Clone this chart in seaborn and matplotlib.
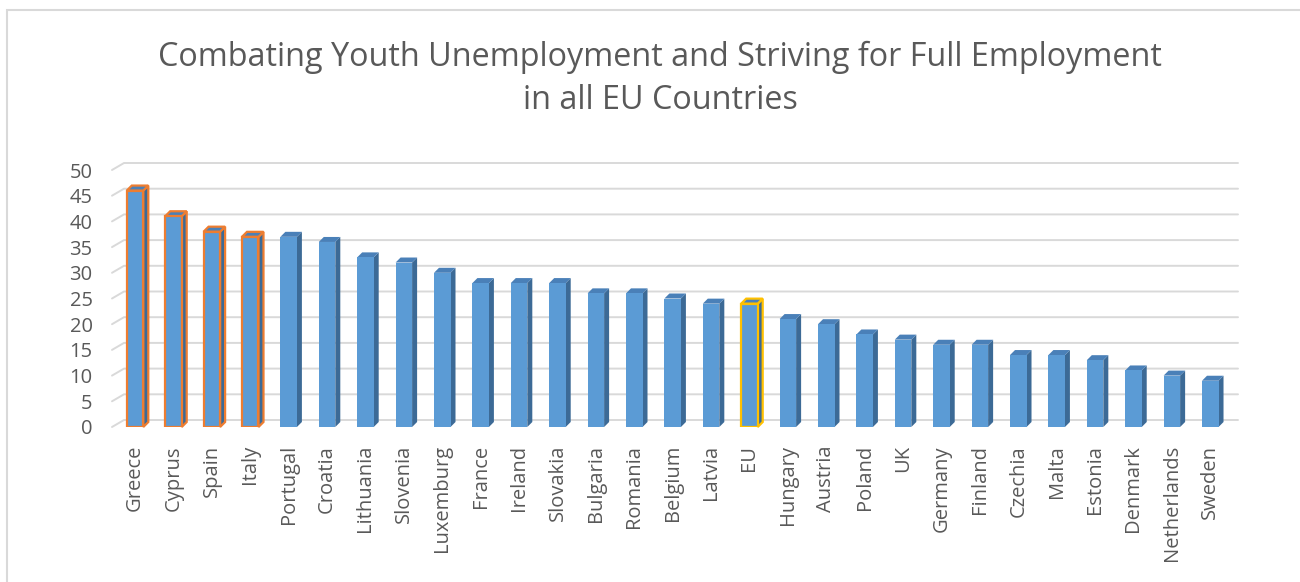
import matplotlib
matplotlib.use("Agg")
import matplotlib.pyplot as plt
from matplotlib.patches import Polygon, Rectangle
from matplotlib.lines import Line2D
from matplotlib.transforms import IdentityTransform
import seaborn as sns
import pandas as pd

countries = ["Greece", "Cyprus", "Spain", "Italy", "Portugal", "Croatia", "Lithuania",
             "Slovenia", "Luxemburg", "France", "Ireland", "Slovakia", "Bulgaria",
             "Romania", "Belgium", "Latvia", "EU", "Hungary", "Austria", "Poland", "UK",
             "Germany", "Finland", "Czechia", "Malta", "Estonia", "Denmark",
             "Netherlands", "Sweden"]
values = [46, 41, 38, 37, 37, 36, 33, 32, 30, 28, 28, 28, 26, 26, 25, 24, 24,
          21, 20, 18, 17, 16, 16, 14, 14, 13, 11, 10, 9]
orange_outlined = ["Greece", "Cyprus", "Spain", "Italy"]
gold_outlined = ["EU"]
yticks = [0, 5, 10, 15, 20, 25, 30, 35, 40, 45, 50]
title = "Combating Youth Unemployment and Striving for Full Employment\nin all EU Countries"

FRONT = "#5B9BD5"
SIDE = "#3C6A96"
TOP = "#4A80B8"
ORANGE = "#ED7D31"
GOLD = "#FFC000"
GRID = "#D9D9D9"
TXT = "#595959"

sns.set_style("white")
plt.rcParams['font.family'] = ['Open Sans', 'DejaVu Sans']

W, H = 1300, 582
fig = plt.figure(figsize=(W / 100, H / 100), dpi=100)
fig.patch.set_facecolor("white")

# chart border
fig.add_artist(Rectangle((7 / W, -0.05), 1.2, 1.05 - 10 / H, transform=fig.transFigure,
                         fill=False, edgecolor=GRID, linewidth=1.5))

ax = fig.add_axes([112 / W, (H - 427) / H, (1231 - 112) / W, 257 / H])
ax.set_facecolor("none")
df = pd.DataFrame({"country": countries, "value": values})
sns.barplot(data=df, x="country", y="value", color=FRONT, saturation=1, width=0.43,
            ax=ax, zorder=3, edgecolor="none")
ax.set_xlim(-0.6, 28.54)
ax.set_ylim(0, 50)
ax.set_yticks(yticks)
ax.set_xlabel("")
ax.set_ylabel("")
for s in ax.spines.values():
    s.set_visible(False)
ax.tick_params(axis="both", length=0, colors=TXT, labelsize=14.5)
ax.tick_params(axis="y", pad=14)
ax.tick_params(axis="x", pad=13)
plt.setp(ax.get_xticklabels(), rotation=90)
ax.grid(False)

# back-wall gridlines
gdx, gdy = 12, 7
x_left, x_right = ax.get_xlim()
for v in yticks:
    fx, fy = ax.transData.transform((x_left, v))
    rx, _ = ax.transData.transform((x_right, v))
    line = Line2D([fx, fx + gdx, rx + 7], [fy, fy + gdy, fy + gdy], color=GRID,
                  linewidth=1.4, transform=IdentityTransform(), zorder=1, clip_on=False)
    ax.add_artist(line)

# 3D faces of bars
bdx, bdy = 5, 5
for patch, c in zip(ax.patches, countries):
    x0, w, h = patch.get_x(), patch.get_width(), patch.get_height()
    br = ax.transData.transform((x0 + w, 0))
    tl = ax.transData.transform((x0, h))
    tr = ax.transData.transform((x0 + w, h))
    edge = "none"
    lw = 0
    if c in orange_outlined:
        edge, lw = ORANGE, 1.6
    elif c in gold_outlined:
        edge, lw = GOLD, 1.6
    side = Polygon([br, tr, (tr[0] + bdx, tr[1] + bdy), (br[0] + bdx, br[1] + bdy)],
                   closed=True, facecolor=SIDE, edgecolor=edge, linewidth=lw,
                   transform=IdentityTransform(), zorder=3, clip_on=False)
    top = Polygon([tl, tr, (tr[0] + bdx, tr[1] + bdy), (tl[0] + bdx, tl[1] + bdy)],
                  closed=True, facecolor=TOP, edgecolor=edge, linewidth=lw,
                  transform=IdentityTransform(), zorder=3, clip_on=False)
    ax.add_artist(side)
    ax.add_artist(top)
    patch.set_edgecolor(edge)
    patch.set_linewidth(lw)
    patch.set_zorder(4)

fig.text(660 / W, 1 - 79 / H, title, ha="center", va="center", fontsize=23.3,
         color=TXT, linespacing=1.4)

fig.savefig("out.png", dpi=100)
